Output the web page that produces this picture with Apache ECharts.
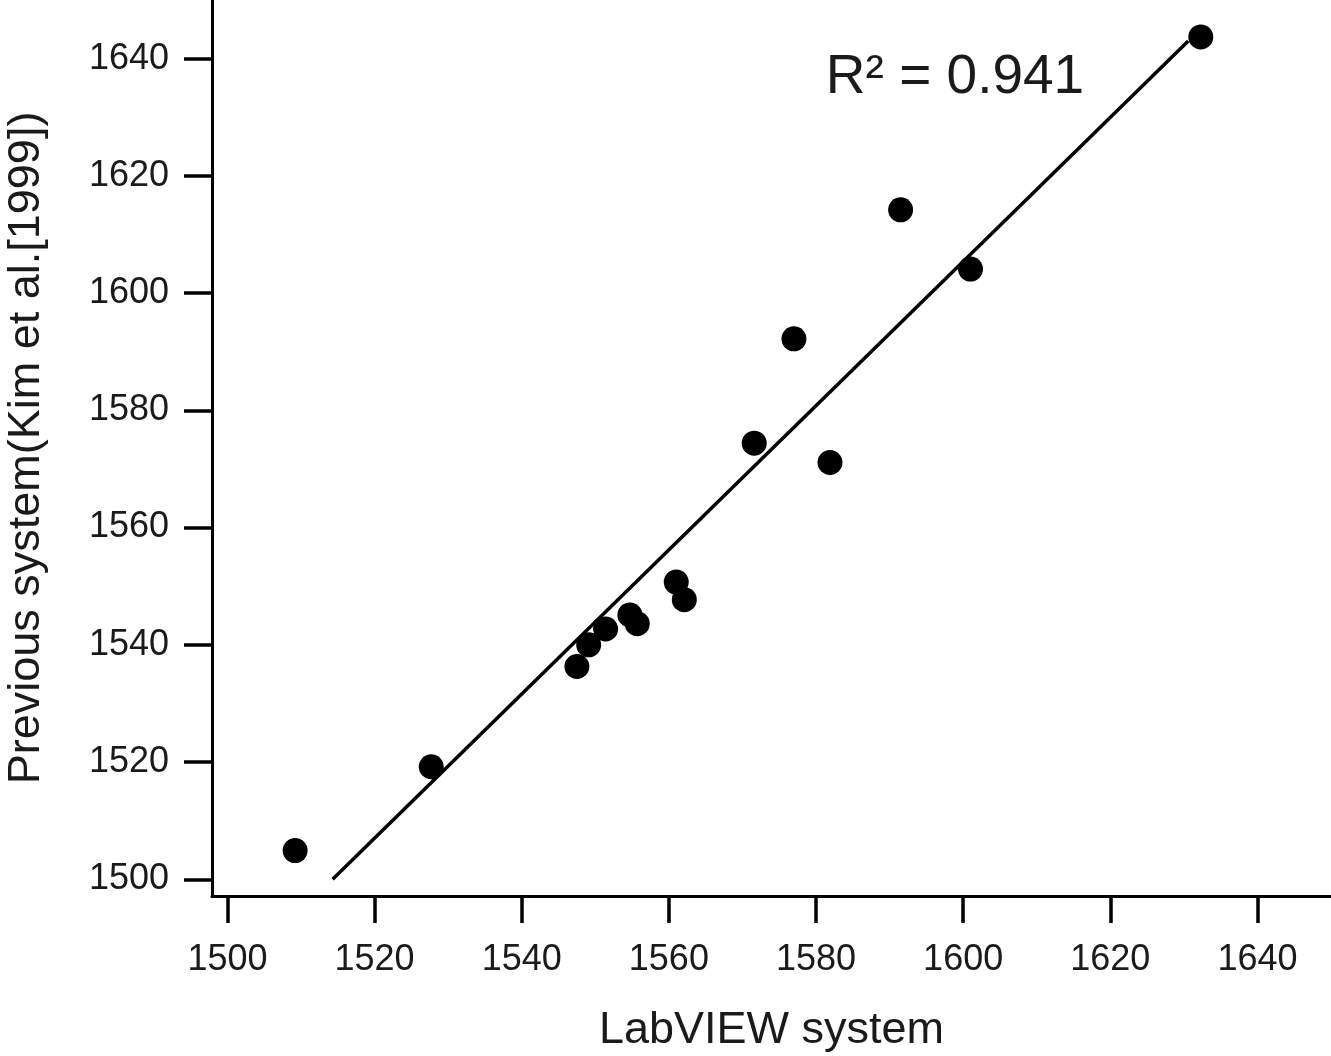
<!DOCTYPE html>
<html>
<head>
<meta charset="utf-8">
<title>LabVIEW vs Previous system</title>
<script src="https://cdn.jsdelivr.net/npm/echarts@6/dist/echarts.min.js"></script>
<style>
html,body{margin:0;padding:0;background:#fff;}
#main{width:1331px;height:1056px;}
</style>
</head>
<body>
<div id="main"></div>
<script>
// data
var labviewX = [1509.2, 1527.7, 1547.5, 1549.1, 1551.4, 1554.7, 1555.7, 1561.0, 1562.1, 1571.6, 1577.0, 1581.9, 1591.5, 1601.0, 1632.3]
var previousY = [1504.9, 1519.2, 1536.3, 1540.0, 1542.7, 1545.1, 1543.6, 1550.7, 1547.7, 1574.4, 1592.2, 1571.1, 1614.2, 1604.1, 1643.7]
// fitted line end points
var fitX = [1514.3, 1630.6]
var fitY = [1500, 1643.0]
var xTicks = [1500, 1520, 1540, 1560, 1580, 1600, 1620, 1640]
var yTicks = [1500, 1520, 1540, 1560, 1580, 1600, 1620, 1640]
var r2Text = 'R² = 0.941'

var points = []
for (var i = 0; i < labviewX.length; i++) {
	points.push([labviewX[i], previousY[i]])
}
var fitLine = [[fitX[0], fitY[0]], [fitX[1], fitY[1]]]

var font = 'Liberation Sans'
var ink = '#1a1a1a'
function plain(v) { return String(v) } // no thousands comma

var myChart = echarts.init(document.getElementById('main'))
myChart.setOption({
	animation: false,
	backgroundColor: '#fff',
	grid: {left: 212, right: 0, top: 0, bottom: 160, outerBoundsMode: 'none', containLabel: false},
	xAxis: {
		type: 'value',
		min: 1497.9,
		max: 1650,
		name: 'LabVIEW system',
		nameLocation: 'middle',
		nameGap: 112,
		nameTextStyle: {fontFamily: font, fontSize: 45, color: ink},
		splitLine: {show: false},
		axisLine: {lineStyle: {color: '#000', width: 3}},
		axisTick: {customValues: xTicks, length: 27, lineStyle: {color: '#000', width: 3.5}},
		axisLabel: {customValues: xTicks, formatter: plain, margin: 46, fontFamily: font, fontSize: 36, color: ink}
	},
	yAxis: {
		type: 'value',
		min: 1497.15,
		max: 1650,
		name: 'Previous system(Kim et al.[1999])',
		nameLocation: 'middle',
		nameRotate: 90,
		nameGap: 163,
		nameTextStyle: {fontFamily: font, fontSize: 45, color: ink},
		splitLine: {show: false},
		axisLine: {lineStyle: {color: '#000', width: 3}},
		axisTick: {customValues: yTicks, length: 28, lineStyle: {color: '#000', width: 3.5}},
		axisLabel: {customValues: yTicks, formatter: plain, margin: 43, fontFamily: font, fontSize: 36, color: ink}
	},
	graphic: [{
		type: 'text',
		x: 955,
		y: 78,
		style: {
			text: r2Text,
			font: '55px "Liberation Sans"',
			fill: ink,
			align: 'center',
			verticalAlign: 'middle'
		}
	}],
	series: [{
		type: 'line',
		data: fitLine,
		symbol: 'none',
		lineStyle: {color: '#000', width: 3.5},
		z: 2
	}, {
		type: 'scatter',
		data: points,
		symbol: 'circle',
		symbolSize: 25,
		itemStyle: {color: '#000', opacity: 1},
		z: 3
	}]
})
</script>
</body>
</html>
